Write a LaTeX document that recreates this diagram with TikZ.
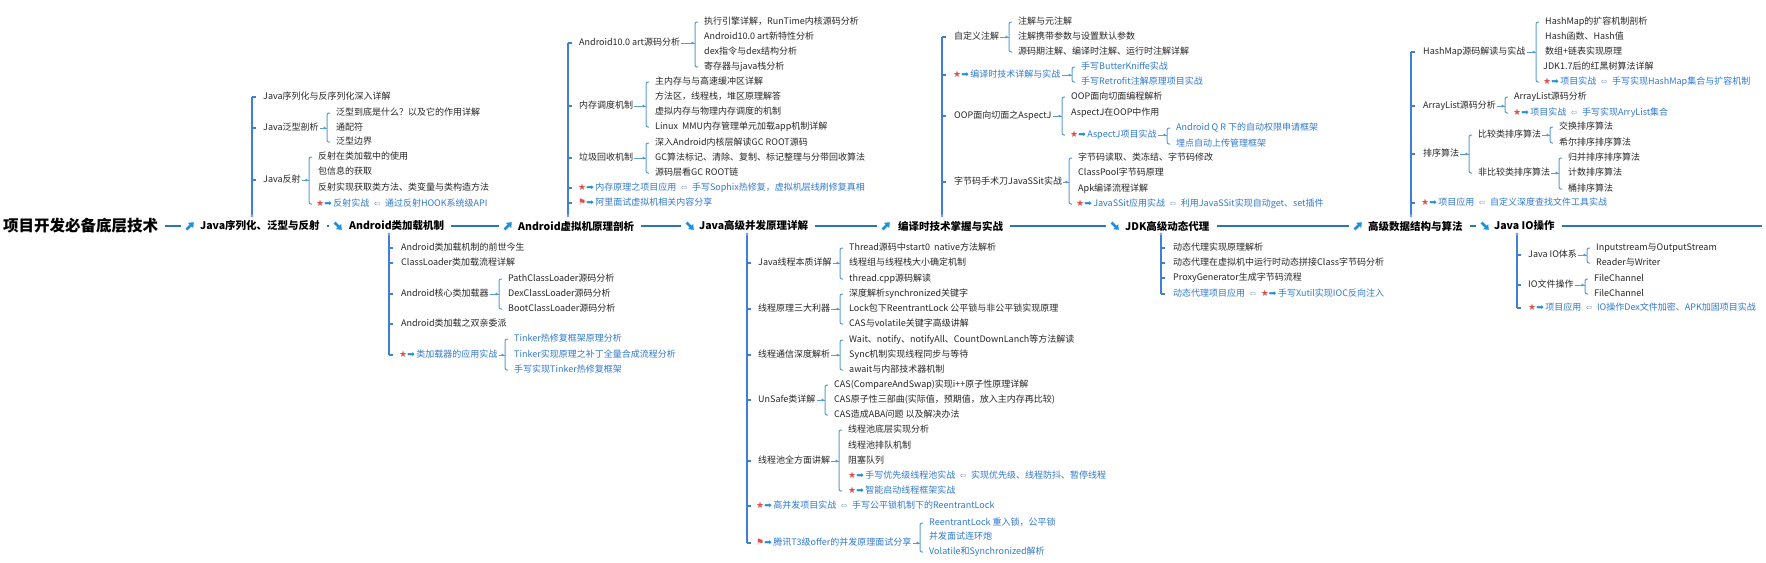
\documentclass[tikz,border=0pt]{standalone}
\usepackage{fontspec}
\setmainfont{Noto Sans CJK SC}
\newfontfamily\symfont{DejaVu Sans}
\usetikzlibrary{arrows.meta}

\definecolor{trunkblue}{HTML}{2E75B6}
\definecolor{spineblue}{HTML}{3F80D6}
\definecolor{forkblue}{HTML}{5B9BD5}
\definecolor{dotblue}{HTML}{8FA8CC}
\definecolor{linkblue}{HTML}{2F78D2}
\definecolor{iconblue}{HTML}{1E90D8}
\definecolor{starred}{HTML}{E0504A}
\definecolor{backgray}{HTML}{7F9CC0}
\definecolor{leafgray}{HTML}{262626}

\newcommand{\leaffont}{\fontsize{9}{10}\selectfont}
\newcommand{\trunkfont}{\fontsize{10.5}{12}\selectfont\bfseries}
\newcommand{\rootfont}{\fontsize{15.5}{18}\selectfont\bfseries}
\newcommand{\proj}{{\symfont\fontsize{9}{10}\selectfont\textcolor{starred}{★}\textcolor{iconblue}{➡}}\,}
\newcommand{\flagp}{{\symfont\fontsize{9}{10}\selectfont\textcolor{starred}{⚑}\textcolor{iconblue}{➡}}\,}
\newcommand{\back}{\enspace{\symfont\fontsize{8}{9}\selectfont\textcolor{backgray}{⇦}}\enspace}

% parent, first child, last child
\newcommand{\subfork}[3]{%
  \coordinate (ft) at ([xshift=-8pt]#2.west);
  \coordinate (fb) at (ft |- #3.west);
  \draw[fork] ([xshift=3pt]ft) -- (ft) -- (fb) -- ([xshift=3pt]fb);
  \draw[forkstub] (#1.east) -- (ft |- #1.east);
  \fill[forkblue] ([xshift=-2.5pt]ft |- #1.east) circle (1.3pt);
}

\tikzset{
  rootnode/.style={anchor=west, inner sep=1pt, font=\rootfont},
  trunknode/.style={anchor=west, inner sep=1pt, font=\trunkfont},
  leaf/.style={anchor=west, inner sep=1pt, font=\leaffont, text=leafgray,
    text height=7pt, text depth=2pt},
  projleaf/.style={leaf, text=linkblue},
  trunk/.style={draw=trunkblue, line width=2pt, shorten <=6pt, shorten >=4pt},
  spine/.style={draw=spineblue, line width=1.4pt},
  fork/.style={draw=forkblue, line width=1pt, rounded corners=2pt},
  forkstub/.style={draw=forkblue, line width=0.8pt},
  iconarrow/.style={draw=iconblue, line width=2.6pt, -{Triangle[length=4.5pt,width=7pt]}},
  upicon/.style={minimum size=10pt, inner sep=0pt, path picture={
    \draw[iconarrow] ([shift={(1.5pt,1.5pt)}]path picture bounding box.south west)
      -- ([shift={(-1.2pt,-1.2pt)}]path picture bounding box.north east);}},
  downicon/.style={minimum size=10pt, inner sep=0pt, path picture={
    \draw[iconarrow] ([shift={(1.5pt,-1.5pt)}]path picture bounding box.north west)
      -- ([shift={(-1.2pt,1.2pt)}]path picture bounding box.south east);}},
}

\begin{document}
\begin{tikzpicture}[x=1pt,y=-1pt]
\useasboundingbox (0,0) rectangle (1766,562);

% Trunk
\node[rootnode] (root) at (2,226) {项目开发必备底层技术};
\node[upicon] (iser) at (190,226) {};
\node[trunknode] (ser) at (199,226) {Java序列化、泛型与反射};
\node[downicon] (icls) at (338,226) {};
\node[trunknode] (cls) at (348,226) {Android类加载机制};
\node[upicon] (ivm) at (508,226) {};
\node[trunknode] (vm) at (517,226) {Android虚拟机原理剖析};
\node[downicon] (iconc) at (690,226) {};
\node[trunknode] (conc) at (698,226) {Java高级并发原理详解};
\node[upicon] (icomp) at (886,226) {};
\node[trunknode] (comp) at (897,226) {编译时技术掌握与实战};
\node[downicon] (ijdk) at (1115,226) {};
\node[trunknode] (jdk) at (1124,226) {JDK高级动态代理};
\node[upicon] (ialgo) at (1358,226) {};
\node[trunknode] (algo) at (1367,226) {高级数据结构与算法};
\node[downicon] (iio) at (1485,226) {};
\node[trunknode] (io) at (1493,226) {Java IO操作};
\coordinate (tail) at (1766,226);

\draw[trunk] (root.east) -- (iser.west);
\draw[trunk] (ser.east) -- (icls.west);
\draw[trunk] (cls.east) -- (ivm.west);
\draw[trunk] (vm.east) -- (iconc.west);
\draw[trunk] (conc.east) -- (icomp.west);
\draw[trunk] (comp.east) -- (ijdk.west);
\draw[trunk] (jdk.east) -- (ialgo.west);
\draw[trunk] (algo.east) -- (iio.west);
\draw[trunk, shorten >=4pt] (io.east) -- (tail);

% Java序列化、泛型与反射
\node[leaf] (s1) at (262,97) {Java序列化与反序列化深入详解};
\node[leaf] (s2) at (262,128) {Java泛型剖析};
\node[leaf] (s2a) at (335,113) {泛型到底是什么？以及它的作用详解};
\node[leaf] (s2b) at (335,127.5) {通配符};
\node[leaf] (s2c) at (335,142) {泛型边界};
\node[leaf] (s3) at (262,180) {Java反射};
\node[leaf] (s3a) at (317,157) {反射在类加载中的使用};
\node[leaf] (s3b) at (317,172) {包信息的获取};
\node[leaf] (s3c) at (317,188) {反射实现获取类方法、类变量与类构造方法};
\node[projleaf] (s3d) at (315,204) {\proj 反射实战\back 通过反射HOOK系统级API};
\coordinate (dser) at (252,216);
\draw[spine] (dser) -- (dser |- s1.west);
\foreach \n in {s1,s2,s3} \draw[spine] (dser |- \n.west) -- ++(4,0);
\fill[dotblue] (dser) circle (1.6pt);
\subfork{s2}{s2a}{s2c}
\subfork{s3}{s3a}{s3d}

% Android类加载机制
\node[leaf] (c1) at (400,248) {Android类加载机制的前世今生};
\node[leaf] (c2) at (400,263) {ClassLoader类加载流程详解};
\node[leaf] (c3) at (400,294) {Android核心类加载器};
\node[leaf] (c3a) at (507,279) {PathClassLoader源码分析};
\node[leaf] (c3b) at (507,294) {DexClassLoader源码分析};
\node[leaf] (c3c) at (507,309) {BootClassLoader源码分析};
\node[leaf] (c4) at (400,324) {Android类加载之双亲委派};
\node[projleaf] (c5) at (398,355) {\proj 类加载器的应用实战};
\node[projleaf] (c5a) at (513,339) {Tinker热修复框架原理分析};
\node[projleaf] (c5b) at (513,355) {Tinker实现原理之补丁全量合成流程分析};
\node[projleaf] (c5c) at (513,370) {手写实现Tinker热修复框架};
\coordinate (dcls) at (389,234);
\draw[spine] (dcls) -- (dcls |- c5.west);
\foreach \n in {c1,c2,c3,c4,c5} \draw[spine] (dcls |- \n.west) -- ++(4,0);
\fill[dotblue] (dcls) circle (1.6pt);
\subfork{c3}{c3a}{c3c}
\subfork{c5}{c5a}{c5c}

% Android虚拟机原理剖析
\node[leaf] (v1) at (578,43) {Android10.0 art源码分析};
\node[leaf] (v1a) at (703,22) {执行引擎详解，RunTime内核源码分析};
\node[leaf] (v1b) at (703,37) {Android10.0 art新特性分析};
\node[leaf] (v1c) at (703,52) {dex指令与dex结构分析};
\node[leaf] (v1d) at (703,67) {寄存器与java栈分析};
\node[leaf] (v2) at (578,106) {内存调度机制};
\node[leaf] (v2a) at (654,82) {主内存与与高速缓冲区详解};
\node[leaf] (v2b) at (654,97) {方法区，线程栈，堆区原理解答};
\node[leaf] (v2c) at (654,112) {虚拟内存与物理内存调度的机制};
\node[leaf] (v2d) at (654,127) {Linux~~MMU内存管理单元加载app机制详解};
\node[leaf] (v3) at (578,158) {垃圾回收机制};
\node[leaf] (v3a) at (654,143) {深入Android内核层解读GC ROOT源码};
\node[leaf] (v3b) at (654,158) {GC算法标记、清除、复制、标记整理与分带回收算法};
\node[leaf] (v3c) at (654,173) {源码层看GC ROOT链};
\node[projleaf] (v4) at (577,188) {\proj 内存原理之项目应用\back 手写Sophix热修复，虚拟机层线刷修复真相};
\node[projleaf] (v5) at (577,203) {\flagp 阿里面试虚拟机相关内容分享};
\coordinate (dvm) at (568,216);
\draw[spine] (dvm) -- (dvm |- v1.west);
\foreach \n in {v1,v2,v3,v4,v5} \draw[spine] (dvm |- \n.west) -- ++(4,0);
\fill[dotblue] (dvm) circle (1.6pt);
\subfork{v1}{v1a}{v1d}
\subfork{v2}{v2a}{v2d}
\subfork{v3}{v3a}{v3c}

% Java高级并发原理详解
\node[leaf] (j1) at (757,263) {Java线程本质详解};
\node[leaf] (j1a) at (848,248) {Thread源码中start0~~native方法解析};
\node[leaf] (j1b) at (848,263) {线程组与线程栈大小确定机制};
\node[leaf] (j1c) at (848,279) {thread.cpp源码解读};
\node[leaf] (j2) at (757,309) {线程原理三大利器};
\node[leaf] (j2a) at (848,294) {深度解析synchronized关键字};
\node[leaf] (j2b) at (848,309) {Lock包下ReentrantLock 公平锁与非公平锁实现原理};
\node[leaf] (j2c) at (848,324) {CAS与volatile关键字高级讲解};
\node[leaf] (j3) at (757,355) {线程通信深度解析};
\node[leaf] (j3a) at (848,340) {Wait、notify、notifyAll、CountDownLanch等方法解读};
\node[leaf] (j3b) at (848,355) {Sync机制实现线程同步与等待};
\node[leaf] (j3c) at (848,370) {await与内部技术器机制};
\node[leaf] (j4) at (757,400) {UnSafe类详解};
\node[leaf] (j4a) at (833,385) {CAS(CompareAndSwap)实现i++原子性原理详解};
\node[leaf] (j4b) at (833,400) {CAS原子性三部曲(实际值，预期值，放入主内存再比较)};
\node[leaf] (j4c) at (833,415) {CAS造成ABA问题 以及解决办法};
\node[leaf] (j5) at (757,461) {线程池全方面讲解};
\node[leaf] (j5a) at (847,430) {线程池底层实现分析};
\node[leaf] (j5b) at (847,446) {线程池排队机制};
\node[leaf] (j5c) at (847,461) {阻塞队列};
\node[projleaf] (j5d) at (847,476) {\proj 手写优先级线程池实战\back 实现优先级、线程防抖、暂停线程};
\node[projleaf] (j5e) at (847,491) {\proj 智能启动线程框架实战};
\node[projleaf] (j6) at (755,506) {\proj 高并发项目实战\back 手写公平锁机制下的ReentrantLock};
\node[projleaf] (j7) at (755,543) {\flagp 腾讯T3级offer的并发原理面试分享};
\node[projleaf] (j7a) at (928,523) {ReentrantLock 重入锁，公平锁};
\node[projleaf] (j7b) at (928,537) {并发面试连环炮};
\node[projleaf] (j7c) at (928,552) {Volatile和Synchronized解析};
\coordinate (dconc) at (747,234);
\draw[spine] (dconc) -- (dconc |- j7.west);
\foreach \n in {j1,j2,j3,j4,j5,j6,j7} \draw[spine] (dconc |- \n.west) -- ++(4,0);
\fill[dotblue] (dconc) circle (1.6pt);
\subfork{j1}{j1a}{j1c}
\subfork{j2}{j2a}{j2c}
\subfork{j3}{j3a}{j3c}
\subfork{j4}{j4a}{j4c}
\subfork{j5}{j5a}{j5e}
\subfork{j7}{j7a}{j7c}

% 编译时技术掌握与实战
\node[leaf] (p1) at (953,37) {自定义注解};
\node[leaf] (p1a) at (1017,22) {注解与元注解};
\node[leaf] (p1b) at (1017,37) {注解携带参数与设置默认参数};
\node[leaf] (p1c) at (1017,52) {源码期注解、编译时注解、运行时注解详解};
\node[projleaf] (p2) at (952,75) {\proj 编译时技术详解与实战};
\node[projleaf] (p2a) at (1080,67) {手写ButterKniffe实战};
\node[projleaf] (p2b) at (1080,82) {手写Retrofit注解原理项目实战};
\node[leaf] (p3) at (953,116) {OOP面向切面之AspectJ};
\node[leaf] (p3a) at (1070,97) {OOP面向切面编程解析};
\node[leaf] (p3b) at (1070,113) {AspectJ在OOP中作用};
\node[projleaf] (p3c) at (1069,135) {\proj AspectJ项目实战};
\node[projleaf] (p3c1) at (1175,128) {Android Q R 下的自动权限申请框架};
\node[projleaf] (p3c2) at (1175,144) {埋点自动上传管理框架};
\node[leaf] (p4) at (953,182) {字节码手术刀JavaSSit实战};
\node[leaf] (p4a) at (1077,158) {字节码读取、类冻结、字节码修改};
\node[leaf] (p4b) at (1077,173) {ClassPool字节码原理};
\node[leaf] (p4c) at (1077,189) {Apk编译流程详解};
\node[projleaf] (p4d) at (1075,204) {\proj JavaSSit应用实战\back 利用JavaSSit实现自动get、set插件};
\coordinate (dcomp) at (942,216);
\draw[spine] (dcomp) -- (dcomp |- p1.west);
\foreach \n in {p1,p2,p3,p4} \draw[spine] (dcomp |- \n.west) -- ++(4,0);
\fill[dotblue] (dcomp) circle (1.6pt);
\subfork{p1}{p1a}{p1c}
\subfork{p2}{p2a}{p2b}
\subfork{p3}{p3a}{p3c}
\subfork{p3c}{p3c1}{p3c2}
\subfork{p4}{p4a}{p4d}

% JDK高级动态代理
\node[leaf] (k1) at (1172,248) {动态代理实现原理解析};
\node[leaf] (k2) at (1172,263) {动态代理在虚拟机中运行时动态拼接Class字节码分析};
\node[leaf] (k3) at (1172,278) {ProxyGenerator生成字节码流程};
\node[projleaf] (k4) at (1172,294) {动态代理项目应用\back\proj 手写Xutil实现IOC反向注入};
\coordinate (djdk) at (1161,234);
\draw[spine] (djdk) -- (djdk |- k4.west);
\foreach \n in {k1,k2,k3,k4} \draw[spine] (djdk |- \n.west) -- ++(4,0);
\fill[dotblue] (djdk) circle (1.6pt);

% 高级数据结构与算法
\node[leaf] (a1) at (1422,52) {HashMap源码解读与实战};
\node[leaf] (a1a) at (1544,22) {HashMap的扩容机制剖析};
\node[leaf] (a1b) at (1544,37) {Hash函数、Hash值};
\node[leaf] (a1c) at (1544,52) {数组+链表实现原理};
\node[leaf] (a1d) at (1542,67) {JDK1.7后的红黑树算法详解};
\node[projleaf] (a1e) at (1542,82) {\proj 项目实战\back 手写实现HashMap集合与扩容机制};
\node[leaf] (a2) at (1422,106) {ArrayList源码分析};
\node[leaf] (a2a) at (1513,97) {ArrayList源码分析};
\node[projleaf] (a2b) at (1512,113) {\proj 项目实战\back 手写实现ArryList集合};
\node[leaf] (a3) at (1422,154) {排序算法};
\node[leaf] (a3a) at (1477,135) {比较类排序算法};
\node[leaf] (a3a1) at (1558,127) {交换排序算法};
\node[leaf] (a3a2) at (1558,143) {希尔排序排序算法};
\node[leaf] (a3b) at (1477,173) {非比较类排序算法};
\node[leaf] (a3b1) at (1567,158) {归并排序排序算法};
\node[leaf] (a3b2) at (1567,173) {计数排序算法};
\node[leaf] (a3b3) at (1567,189) {桶排序算法};
\node[projleaf] (a4) at (1420,203) {\proj 项目应用\back 自定义深度查找文件工具实战};
\coordinate (dalgo) at (1411,216);
\draw[spine] (dalgo) -- (dalgo |- a1.west);
\foreach \n in {a1,a2,a3,a4} \draw[spine] (dalgo |- \n.west) -- ++(4,0);
\fill[dotblue] (dalgo) circle (1.6pt);
\subfork{a1}{a1a}{a1e}
\subfork{a2}{a2a}{a2b}
\subfork{a3}{a3a}{a3b}
\subfork{a3a}{a3a1}{a3a2}
\subfork{a3b}{a3b1}{a3b3}

% Java IO操作
\node[leaf] (o1) at (1527,255) {Java IO体系};
\node[leaf] (o1a) at (1595,248) {Inputstream与OutputStream};
\node[leaf] (o1b) at (1595,263) {Reader与Writer};
\node[leaf] (o2) at (1527,285) {IO文件操作};
\node[leaf] (o2a) at (1593,279) {FileChannel};
\node[leaf] (o2b) at (1593,294) {FileChannel};
\node[projleaf] (o3) at (1527,308) {\proj 项目应用\back IO操作Dex文件加密、APK加固项目实战};
\coordinate (dio) at (1517,234);
\draw[spine] (dio) -- (dio |- o3.west);
\foreach \n in {o1,o2,o3} \draw[spine] (dio |- \n.west) -- ++(4,0);
\fill[dotblue] (dio) circle (1.6pt);
\subfork{o1}{o1a}{o1b}
\subfork{o2}{o2a}{o2b}

\end{tikzpicture}
\end{document}
